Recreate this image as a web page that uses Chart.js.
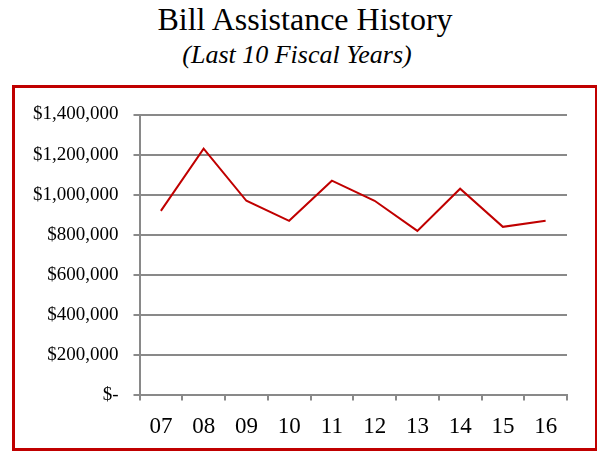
<!DOCTYPE html>
<html>
<head>
<meta charset="utf-8">
<script src="https://cdn.jsdelivr.net/npm/chart.js@4/dist/chart.umd.min.js"></script>
<style>
  html, body { margin:0; padding:0; background:#fff; overflow:hidden; }
  body { width:597px; height:454px; position:relative; font-family:"Liberation Serif", "Times New Roman", serif; }
  .t { position:absolute; white-space:nowrap; line-height:1; color:#000; transform:translateX(-50%); }
  #title { left:305px; top:2.5px; font-size:32px; }
  #subtitle { left:297px; top:41.5px; font-size:26px; font-style:italic; }
  #frame { position:absolute; left:12px; top:85px; width:580px; height:360px; border:3px solid #c00000; }
  #wrap { position:absolute; left:0; top:0; width:597px; height:454px; }
</style>
</head>
<body>
<div id="title" class="t">Bill Assistance History</div>
<div id="subtitle" class="t">(Last 10 Fiscal Years)</div>
<div id="frame"></div>
<div id="wrap"><canvas id="c" width="597" height="454"></canvas></div>
<script>
const categories = ['07','08','09','10','11','12','13','14','15','16'];
const assistance = [920000, 1230000, 970000, 870000, 1070000, 970000, 820000, 1030000, 840000, 870000];
const yTickValues = [0, 200000, 400000, 600000, 800000, 1000000, 1200000, 1400000];
const yTickLabels = ['$-', '$200,000', '$400,000', '$600,000', '$800,000', '$1,000,000', '$1,200,000', '$1,400,000'];

const gridColor = '#898989';
new Chart(document.getElementById('c'), {
  type: 'line',
  data: {
    labels: categories,
    datasets: [{
      data: assistance,
      borderColor: '#c00000',
      borderWidth: 2,
      pointRadius: 0,
      tension: 0,
      fill: false
    }]
  },
  options: {
    responsive: false,
    animation: false,
    layout: { padding: { left: 18, right: 30, top: 114.5, bottom: 0 } },
    plugins: { legend: { display: false }, tooltip: { enabled: false }, title: { display: false } },
    scales: {
      x: {
        offset: true,
        grid: { offset: true, drawOnChartArea: false, color: gridColor, lineWidth: 2, tickLength: 5 },
        border: { display: true, color: gridColor, width: 2 },
        ticks: { color: '#000', font: { family: 'Liberation Serif', size: 23 }, padding: 13, maxRotation: 0, autoSkip: false }
      },
      y: {
        min: 0,
        max: 1400000,
        grid: { color: gridColor, lineWidth: 2, tickLength: 6 },
        border: { display: true, color: gridColor, width: 2 },
        afterBuildTicks: (axis) => { axis.ticks = yTickValues.map(v => ({ value: v })); },
        ticks: {
          color: '#000',
          font: { family: 'Liberation Serif', size: 19 },
          padding: 15,
          callback: (v) => { const i = yTickValues.indexOf(v); return i >= 0 ? yTickLabels[i] : ''; }
        }
      }
    }
  }
});
</script>
</body>
</html>
